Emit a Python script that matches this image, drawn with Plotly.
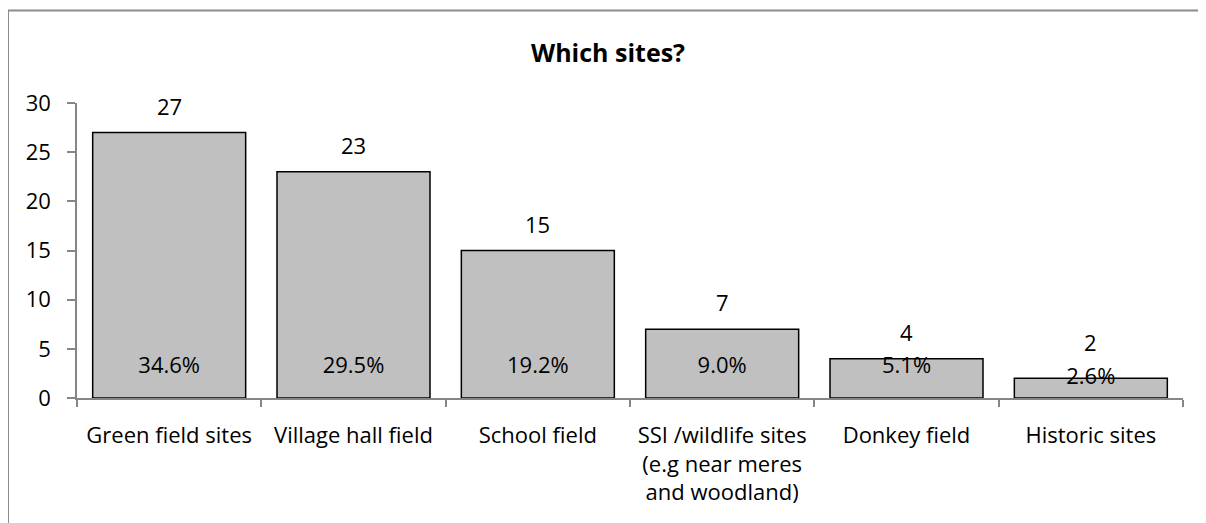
import plotly.graph_objects as go

categories = ["Green field sites", "Village hall field", "School field",
              "SSI /wildlife sites<br>(e.g near meres<br>and woodland)",
              "Donkey field", "Historic sites"]
counts = [27, 23, 15, 7, 4, 2]
percent_labels = ["34.6%", "29.5%", "19.2%", "9.0%", "5.1%", "2.6%"]
y_ticks = [0, 5, 10, 15, 20, 25, 30]

# label placement rules (data units)
PCT_Y = 3.15       # percentage labels sit near bar base, never above bar top
MIN_LABEL_BASE = 2.9

FONT = "Open Sans"
FS = 22
OFF = 8  # page body margin
W, H = 1206 - OFF, 523 - OFF
ml, mt = 77 - OFF, 103 - OFF
mr = W - (1183 - OFF)
mb = H - (398 - OFF)

fig = go.Figure()
fig.add_trace(go.Bar(
    x=categories, y=counts,
    marker=dict(color="#C0C0C0", line=dict(color="#000000", width=1.5)),
    width=0.83, hoverinfo="skip", showlegend=False,
))
fig.add_trace(go.Scatter(
    x=categories, y=[min(PCT_Y, v) for v in counts], mode="text",
    text=percent_labels, textposition="middle center",
    textfont=dict(family=FONT, size=FS, color="#000000"),
    hoverinfo="skip", showlegend=False,
))
for c, v in zip(categories, counts):
    fig.add_annotation(x=c, y=max(v, MIN_LABEL_BASE), text=str(v), showarrow=False,
                       yanchor="bottom", yshift=10,
                       font=dict(family=FONT, size=FS, color="#000000"))

pw = W - ml - mr
ph = H - mt - mb
fig.add_shape(type="rect", xref="paper", yref="paper",
              x0=(0 - ml) / pw, x1=(W + 10 - ml) / pw,
              y0=(H - mb - (H + 10)) / ph, y1=(H - mb - 2.5) / ph,
              line=dict(color="#8C8C8C", width=2), fillcolor="rgba(0,0,0,0)",
              layer="below")

fig.update_layout(
    width=W, height=H,
    margin=dict(l=ml, r=mr, t=mt, b=mb),
    paper_bgcolor="white", plot_bgcolor="white",
    title=dict(text="<b>Which sites?</b>", x=(608 - OFF) / W, xanchor="center",
               y=1 - (53 - OFF) / H, yanchor="middle",
               font=dict(family=FONT, size=25, color="#000000")),
    font=dict(family=FONT, size=FS, color="#000000"),
    bargap=0.17,
    xaxis=dict(showline=True, linecolor="#868686", linewidth=1.5,
               ticks="outside", tickson="boundaries", ticklen=7,
               tickcolor="#868686", tickwidth=1.5, showgrid=False,
               ticklabelstandoff=17, fixedrange=True,
               tickfont=dict(family=FONT, size=FS)),
    yaxis=dict(range=[0, 30], tickvals=y_ticks, showline=True,
               linecolor="#868686", linewidth=1.5, ticks="outside",
               ticklen=8, tickcolor="#868686", tickwidth=1.5,
               showgrid=False, zeroline=False, ticklabelstandoff=12,
               fixedrange=True, tickfont=dict(family=FONT, size=FS)),
)

fig.write_html("out.html")
